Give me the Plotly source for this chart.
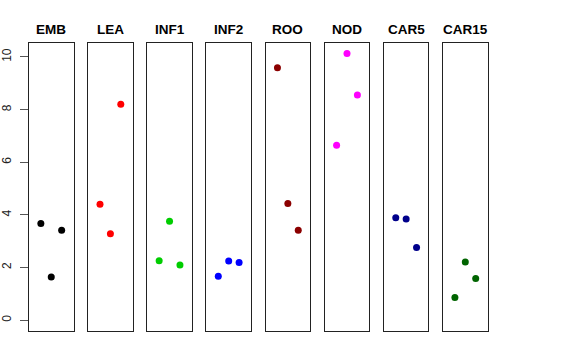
import plotly.graph_objects as go

categories = ["EMB", "LEA", "INF1", "INF2", "ROO", "NOD", "CAR5", "CAR15"]
colors = ["black", "red", "#00CD00", "blue", "#8B0000", "magenta", "#00008B", "#006400"]
positions = [1, 2, 3]
values = {
    "EMB": [3.67, 1.64, 3.42],
    "LEA": [4.40, 3.28, 8.20],
    "INF1": [2.26, 3.76, 2.10],
    "INF2": [1.67, 2.25, 2.19],
    "ROO": [9.59, 4.43, 3.42],
    "NOD": [6.65, 10.13, 8.55],
    "CAR5": [3.89, 3.84, 2.76],
    "CAR15": [0.86, 2.21, 1.58],
}
y_ticks = [0, 2, 4, 6, 8, 10]

W, H = 576, 360
fig = go.Figure()
left0, step, width = 29, 59.15, 44.5
ydom = [1 - 331 / H, 1 - 43 / H]

for i, cat in enumerate(categories):
    n = "" if i == 0 else str(i + 1)
    fig.add_trace(go.Scatter(
        x=positions, y=values[cat], mode="markers",
        marker=dict(color=colors[i], size=7),
        xaxis="x" + n, yaxis="y" + n, showlegend=False, hoverinfo="skip"))
    l = left0 + i * step
    fig.layout["xaxis" + n] = dict(
        domain=[l / W, (l + width) / W], range=[2 - 2.14, 2 + 2.14],
        showgrid=False, zeroline=False, showticklabels=False, ticks="",
        showline=True, mirror=True, linecolor="#222", linewidth=1,
        fixedrange=True, automargin=False)
    ydict = dict(
        domain=ydom, range=[-0.41, 10.53], showgrid=False, zeroline=False,
        showline=True, mirror=True, linecolor="#222", linewidth=1,
        anchor="x" + n, fixedrange=True, automargin=False)
    if i == 0:
        ydict.update(tickvals=y_ticks, ticktext=[str(v) for v in y_ticks],
                     ticks="outside", ticklen=8, tickcolor="#555", tickangle=-90,
                     ticklabelstandoff=4,
                     tickfont=dict(family="Liberation Sans, Arial", size=12, color="#222"))
    else:
        ydict.update(showticklabels=False, ticks="")
    fig.layout["yaxis" + n] = ydict
    fig.add_annotation(
        x=(l + width / 2) / W, y=1 - 29.7 / H, xref="paper", yref="paper",
        text="<b>" + cat + "</b>", showarrow=False,
        font=dict(family="Liberation Sans, Arial", size=13.5, color="black"),
        xanchor="center", yanchor="middle")

fig.update_layout(width=W, height=H, margin=dict(l=0, r=0, t=0, b=0, autoexpand=False),
                  plot_bgcolor="white", paper_bgcolor="white")
fig.write_html("out.html", config={"displayModeBar": False, "staticPlot": True},
               post_script="document.body.style.margin='0';")
